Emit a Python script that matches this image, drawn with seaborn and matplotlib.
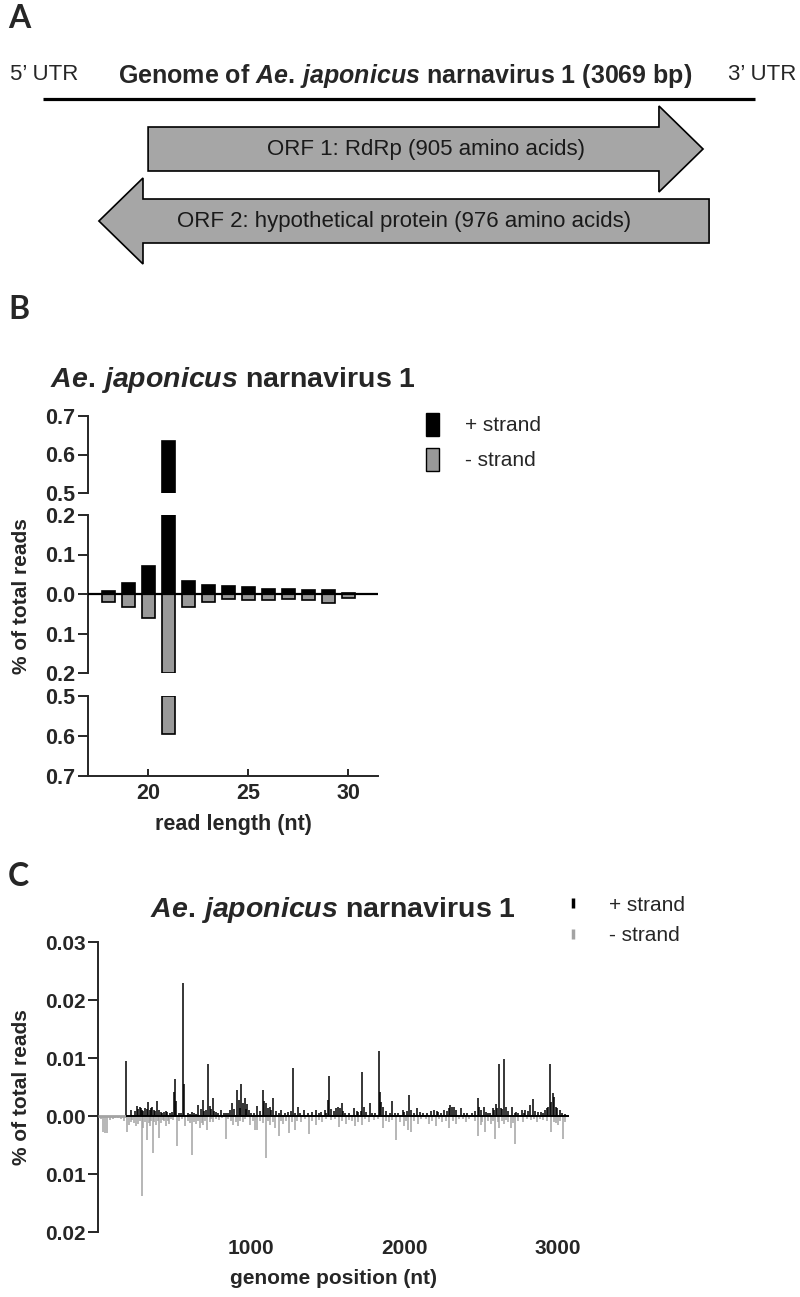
import numpy as np
import pandas as pd
import seaborn as sns
import matplotlib.pyplot as plt
import matplotlib.patches as mpatches
from matplotlib.lines import Line2D
from matplotlib.ticker import FixedLocator, FuncFormatter

# ---- painel A: esquema do genoma
genome_len = 3069
orf_labels = ["ORF 1: RdRp (905 amino acids)", "ORF 2: hypothetical protein (976 amino acids)"]
orf_start = [453, 2871]
orf_end = [2845, 241]

# ---- painel B: tamanho dos reads
read_length = [18, 19, 20, 21, 22, 23, 24, 25, 26, 27, 28, 29, 30, 31]
plus_strand = [0.0085, 0.028, 0.072, 0.635, 0.032, 0.022, 0.019, 0.017, 0.013, 0.013, 0.011, 0.0095, 0.002, 0.001]
minus_strand = [0.021, 0.032, 0.062, 0.595, 0.034, 0.019, 0.0135, 0.0145, 0.016, 0.013, 0.016, 0.023, 0.010, 0.001]

# ---- painel C: cobertura ao longo do genoma
plus_pos = [183, 216, 243, 256, 272, 287, 304, 326, 337, 352,
            365, 387, 409, 431, 453, 483, 496, 503, 512, 527,
            557, 563, 585, 611, 655, 688, 703, 720, 729, 749,
            768, 803, 833, 877, 909, 936, 958, 975, 986, 1041,
            1075, 1086, 1099, 1121, 1141, 1195, 1241, 1271, 1304, 1348,
            1398, 1420, 1459, 1481, 1503, 1509, 1555, 1569, 1590, 1612,
            1671, 1700, 1724, 1735, 1776, 1837, 1844, 1863, 1922, 1940,
            1988, 1999, 2032, 2043, 2080, 2102, 2172, 2194, 2223, 2260,
            2299, 2314, 2325, 2369, 2412, 2478, 2489, 2517, 2543, 2576,
            2598, 2620, 2631, 2650, 2663, 2703, 2729, 2768, 2790, 2823,
            2842, 2871, 2893, 2921, 2938, 2951, 2969, 2980, 2991, 3013,
            262, 280, 296, 318, 344, 372, 395, 418, 442, 470,
            540, 598, 626, 640, 670, 695, 738, 760, 785, 820,
            850, 865, 890, 918, 925, 945, 965, 1000, 1020, 1055,
            1110, 1130, 1160, 1180, 1220, 1260, 1285, 1320, 1370, 1440,
            1490, 1520, 1540, 1580, 1600, 1640, 1690, 1715, 1750, 1790,
            1810, 1850, 1880, 1905, 1960, 2015, 2060, 2120, 2145, 2210,
            2240, 2280, 2290, 2340, 2390, 2440, 2460, 2500, 2530, 2560,
            2585, 2605, 2640, 2680, 2720, 2745, 2780, 2810, 2855, 2905,
            2930, 2960, 2998, 3030, 3050]
plus_val = [0.0094, 0.0011, 0.0009, 0.0018, 0.0015, 0.0010, 0.0013, 0.0024, 0.0011, 0.0016,
            0.0010, 0.0026, 0.0007, 0.0007, 0.0007, 0.0007, 0.0042, 0.0063, 0.0026, 0.0005,
            0.0230, 0.0056, 0.0005, 0.0007, 0.0019, 0.0027, 0.0010, 0.0089, 0.0017, 0.0031,
            0.0007, 0.0010, 0.0005, 0.0023, 0.0045, 0.0056, 0.0031, 0.0021, 0.0010, 0.0018,
            0.0045, 0.0026, 0.0022, 0.0016, 0.0031, 0.0010, 0.0007, 0.0083, 0.0016, 0.0011,
            0.0007, 0.0010, 0.0007, 0.0010, 0.0027, 0.0069, 0.0013, 0.0016, 0.0022, 0.0005,
            0.0013, 0.0007, 0.0076, 0.0016, 0.0023, 0.0112, 0.0042, 0.0016, 0.0026, 0.0005,
            0.0011, 0.0007, 0.0036, 0.0010, 0.0013, 0.0007, 0.0009, 0.0010, 0.0007, 0.0010,
            0.0019, 0.0016, 0.0016, 0.0013, 0.0006, 0.0031, 0.0016, 0.0015, 0.0005, 0.0013,
            0.0020, 0.0089, 0.0013, 0.0098, 0.0016, 0.0015, 0.0007, 0.0010, 0.0011, 0.0019,
            0.0030, 0.0007, 0.0007, 0.0010, 0.0016, 0.0090, 0.0039, 0.0033, 0.0016, 0.0010,
            0.0012, 0.0013, 0.0008, 0.0012, 0.0014, 0.0009, 0.0011, 0.0006, 0.0008, 0.0005,
            0.0006, 0.0004, 0.0006, 0.0004, 0.0012, 0.0008, 0.0012, 0.0009, 0.0005, 0.0005,
            0.0006, 0.0010, 0.0012, 0.0028, 0.0013, 0.0022, 0.0012, 0.0006, 0.0005, 0.0009,
            0.0013, 0.0011, 0.0008, 0.0005, 0.0006, 0.0008, 0.0006, 0.0005, 0.0005, 0.0005,
            0.0006, 0.0012, 0.0008, 0.0014, 0.0009, 0.0005, 0.0009, 0.0008, 0.0007, 0.0006,
            0.0005, 0.0025, 0.0009, 0.0005, 0.0006, 0.0008, 0.0006, 0.0005, 0.0006, 0.0008,
            0.0005, 0.0008, 0.0014, 0.0010, 0.0006, 0.0005, 0.0008, 0.0010, 0.0007, 0.0006,
            0.0011, 0.0014, 0.0012, 0.0009, 0.0006, 0.0005, 0.0006, 0.0009, 0.0008, 0.0006,
            0.0013, 0.0025, 0.0014, 0.0006, 0.0004]

minus_pos = [34, 45, 60, 78, 110, 189, 204, 224, 246, 263,
             289, 296, 318, 340, 357, 379, 401, 423, 444, 464,
             492, 514, 568, 614, 640, 666, 688, 714, 753, 790,
             836, 884, 912, 945, 995, 1025, 1038, 1097, 1125, 1158,
             1180, 1208, 1245, 1285, 1328, 1380, 1426, 1463, 1518, 1572,
             1616, 1681, 1721, 1769, 1801, 1863, 1900, 1944, 1999, 2023,
             2043, 2087, 2161, 2205, 2248, 2292, 2336, 2401, 2482, 2499,
             2525, 2565, 2593, 2620, 2648, 2696, 2724, 2772, 2827, 2864,
             2903, 2958, 3001, 3034,
             20, 95, 130, 150, 170, 215, 235, 272, 306, 330,
             348, 368, 390, 412, 434, 454, 478, 530, 550, 590,
             600, 628, 652, 676, 700, 728, 740, 770, 810, 850,
             870, 898, 925, 960, 1010, 1060, 1080, 1110, 1140, 1195,
             1230, 1265, 1300, 1350, 1400, 1445, 1490, 1545, 1595, 1640,
             1660, 1700, 1745, 1830, 1880, 1920, 1970, 2010, 2065, 2110,
             2140, 2180, 2225, 2270, 2315, 2360, 2380, 2420, 2460, 2510,
             2545, 2580, 2610, 2635, 2665, 2680, 2710, 2740, 2800, 2845,
             2885, 2930, 2975, 2990, 3015, 3050]
minus_val = [0.0027, 0.0030, 0.0029, 0.0007, 0.0004, 0.0027, 0.0015, 0.0007, 0.0018, 0.0013,
             0.0138, 0.0021, 0.0041, 0.0018, 0.0063, 0.0015, 0.0038, 0.0007, 0.0018, 0.0013,
             0.0007, 0.0051, 0.0017, 0.0068, 0.0013, 0.0021, 0.0015, 0.0024, 0.0010, 0.0007,
             0.0040, 0.0015, 0.0018, 0.0010, 0.0015, 0.0024, 0.0024, 0.0073, 0.0015, 0.0021,
             0.0034, 0.0013, 0.0029, 0.0024, 0.0010, 0.0031, 0.0015, 0.0010, 0.0007, 0.0019,
             0.0013, 0.0018, 0.0015, 0.0010, 0.0007, 0.0021, 0.0010, 0.0041, 0.0018, 0.0024,
             0.0027, 0.0013, 0.0013, 0.0018, 0.0010, 0.0021, 0.0013, 0.0010, 0.0034, 0.0015,
             0.0027, 0.0013, 0.0040, 0.0021, 0.0013, 0.0021, 0.0048, 0.0010, 0.0007, 0.0010,
             0.0007, 0.0027, 0.0015, 0.0039,
             0.0006, 0.0005, 0.0004, 0.0006, 0.0008, 0.0010, 0.0012, 0.0009, 0.0011, 0.0012,
             0.0009, 0.0011, 0.0008, 0.0012, 0.0009, 0.0008, 0.0005, 0.0009, 0.0006, 0.0008,
             0.0012, 0.0010, 0.0008, 0.0012, 0.0009, 0.0010, 0.0006, 0.0005, 0.0004, 0.0006,
             0.0009, 0.0010, 0.0008, 0.0006, 0.0008, 0.0009, 0.0012, 0.0008, 0.0010, 0.0009,
             0.0008, 0.0010, 0.0008, 0.0006, 0.0009, 0.0007, 0.0005, 0.0006, 0.0008, 0.0007,
             0.0009, 0.0010, 0.0006, 0.0005, 0.0009, 0.0007, 0.0010, 0.0008, 0.0009, 0.0006,
             0.0005, 0.0008, 0.0006, 0.0008, 0.0009, 0.0006, 0.0005, 0.0006, 0.0009, 0.0010,
             0.0008, 0.0009, 0.0010, 0.0009, 0.0007, 0.0010, 0.0012, 0.0008, 0.0005, 0.0006,
             0.0005, 0.0008, 0.0010, 0.0012, 0.0009, 0.0010]

GRAY_B = "#999999"
GRAY_C = "#a3a3a3"
GRAY_ARROW = "#a6a6a6"

sns.set_theme(style="ticks")
plt.rcParams["font.family"] = ["Liberation Sans", "DejaVu Sans"]
plt.rcParams["mathtext.fontset"] = "custom"
plt.rcParams["mathtext.rm"] = "Liberation Sans:bold"
plt.rcParams["mathtext.it"] = "Liberation Sans:italic:bold"
plt.rcParams["mathtext.bf"] = "Liberation Sans:bold"
plt.rcParams["axes.linewidth"] = 1.4

W, H = 800, 1297
fig = plt.figure(figsize=(W / 100, H / 100), dpi=100)


def box(left, top, right, bottom):
    # caixa em pixels -> fracao da figura
    return [left / W, 1 - bottom / H, (right - left) / W, (bottom - top) / H]


def panel_letter(y, letter):
    fig.text(8 / W, 1 - y / H, letter, fontsize=23, fontweight="bold",
             family=["Lato", "Liberation Sans"], va="center", ha="left")


species = r"$\mathit{Ae.\,japonicus}$"

# ================= A =================
axA = fig.add_axes(box(0, 0, 800, 285))
px_nt = genome_len / 712.0
axA.set_xlim(-43 * px_nt, (800 - 43) * px_nt)
axA.set_ylim(285, 0)
axA.axis("off")
axA.plot([0, genome_len], [99, 99], color="black", lw=2.3, solid_capstyle="butt")
rows_y = [149, 221]
for lab, s, e, yy in zip(orf_labels, orf_start, orf_end, rows_y):
    arr = mpatches.FancyArrow(s, yy, e - s, 0, width=44, head_width=86,
                              head_length=190, length_includes_head=True,
                              facecolor=GRAY_ARROW, edgecolor="black", lw=1.2)
    axA.add_patch(arr)
    axA.text((s + e) / 2, yy, lab, ha="center", va="center", fontsize=16, color="#1a1a1a")
fig.text(10 / W, 1 - 75 / H, "5\u2019 UTR", fontsize=16, ha="left", va="center")
fig.text(796 / W, 1 - 75 / H, "3\u2019 UTR", fontsize=16, ha="right", va="center")
fig.text(405 / W, 1 - 76 / H, "Genome of " + species + " narnavirus 1 (3069 bp)",
         fontsize=18, fontweight="bold", ha="center", va="center")
panel_letter(19, "A")

# ================= B =================
panel_letter(309, "B")
axT = fig.add_axes(box(88, 416, 378, 493))
axM = fig.add_axes(box(88, 515, 378, 673))
axL = fig.add_axes(box(88, 696, 378, 776))

plus = np.array(plus_strand)
minus = -np.array(minus_strand)
lengths = np.array(read_length)

# segmento do meio (-0.2 a 0.2) com seaborn
df_mid = pd.DataFrame({"len": np.concatenate([lengths, lengths]),
                       "val": np.concatenate([np.clip(plus, -0.2, 0.2), np.clip(minus, -0.2, 0.2)]),
                       "strand": ["+"] * len(lengths) + ["-"] * len(lengths)})
sns.barplot(data=df_mid, x="len", y="val", hue="strand", palette={"+": "black", "-": GRAY_B},
            native_scale=True, width=0.65, dodge=False, errorbar=None, edgecolor="black",
            linewidth=1.2, legend=False, ax=axM)
axM.axhline(0, color="black", lw=1.6, zorder=5)

# segmentos quebrados
top_mask = plus > 0.5
axT.bar(lengths[top_mask], np.clip(plus[top_mask], 0.5, 0.7) - 0.5, bottom=0.5, width=0.65,
        color="black", edgecolor="black", lw=1.2)
bot_mask = minus < -0.5
axL.bar(lengths[bot_mask], np.clip(minus[bot_mask], -0.7, -0.5) + 0.5, bottom=-0.5, width=0.65,
        color=GRAY_B, edgecolor="black", lw=1.2)

absfmt = FuncFormatter(lambda v, p: f"{abs(v):.1f}")
for ax, lim, ticks, brk in [(axT, (0.5, 0.7), [0.5, 0.6, 0.7], [0.5]),
                            (axM, (-0.2, 0.2), [-0.2, -0.1, 0.0, 0.1, 0.2], [-0.2, 0.2]),
                            (axL, (-0.7, -0.5), [-0.7, -0.6, -0.5], [-0.5])]:
    ax.set_xlim(17, 31.5)
    ax.set_ylim(*lim)
    ax.set_yticks(ticks)
    ax.yaxis.set_major_formatter(absfmt)
    ax.yaxis.set_minor_locator(FixedLocator(brk))
    ax.tick_params(axis="y", which="major", direction="out", length=7, width=1.4,
                   labelsize=15.5, pad=2)
    ax.tick_params(axis="y", which="minor", direction="in", length=7, width=1.4)
    for t in ax.get_yticklabels():
        t.set_fontweight("bold")
    for sp in ["top", "right"]:
        ax.spines[sp].set_visible(False)
    ax.set_xlabel("")
    ax.set_ylabel("")
    ax.patch.set_alpha(0)
    if ax is not axL:
        ax.spines["bottom"].set_visible(False)
        ax.set_xticks([])

axL.set_xticks([20, 25, 30])
axL.tick_params(axis="x", direction="in", length=5, width=1.4, labelsize=15.5, pad=5)
for t in axL.get_xticklabels():
    t.set_fontweight("bold")
axL.set_xlabel("read length (nt)", fontsize=15.5, fontweight="bold", labelpad=7)

fig.text(22 / W, 1 - 596 / H, "% of total reads", rotation=90, fontsize=15,
         fontweight="bold", ha="center", va="center")
fig.text(233 / W, 1 - 380 / H, species + " narnavirus 1",
         fontsize=20.5, fontweight="bold", ha="center", va="center")

fig.legend(handles=[mpatches.Patch(facecolor="black", edgecolor="black"),
                    mpatches.Patch(facecolor=GRAY_B, edgecolor="black")],
           labels=["+ strand", "- strand"], loc="upper left",
           bbox_to_anchor=(407 / W, 1 - 394 / H), frameon=False,
           handlelength=0.65, handleheight=1.35, handletextpad=1.25,
           labelspacing=0.55, fontsize=15)

# ================= C =================
panel_letter(877, "C")
axC = fig.add_axes(box(98, 942, 569, 1232))
axC.vlines(minus_pos, 0, -np.array(minus_val), color=GRAY_C, lw=1.1)
axC.vlines(plus_pos, 0, np.array(plus_val), color="black", lw=1.1)
axC.hlines(0, 0, min(plus_pos), color=GRAY_C, lw=2.0, zorder=4)
axC.hlines(0, min(plus_pos), genome_len + 6, color="black", lw=1.4, zorder=4)
axC.set_xlim(0, 3075)
axC.set_ylim(-0.02, 0.03)
axC.set_yticks([-0.02, -0.01, 0.0, 0.01, 0.02, 0.03])
axC.yaxis.set_major_formatter(FuncFormatter(lambda v, p: f"{abs(v):.2f}"))
axC.set_xticks([1000, 2000, 3000])
axC.tick_params(axis="y", direction="out", length=7, width=1.4, labelsize=15, pad=2)
axC.tick_params(axis="x", length=0, labelsize=15, pad=5)
for t in axC.get_xticklabels() + axC.get_yticklabels():
    t.set_fontweight("bold")
for sp in ["top", "right", "bottom"]:
    axC.spines[sp].set_visible(False)
axC.set_xlabel("genome position (nt)", fontsize=15, fontweight="bold", labelpad=8)
fig.text(22 / W, 1 - 1087 / H, "% of total reads", rotation=90, fontsize=15,
         fontweight="bold", ha="center", va="center")
fig.text(333 / W, 1 - 910 / H, species + " narnavirus 1",
         fontsize=20.5, fontweight="bold", ha="center", va="center")

fig.legend(handles=[Line2D([], [], marker="|", color="black", ls="none", ms=7, mew=2.5),
                    Line2D([], [], marker="|", color=GRAY_C, ls="none", ms=7, mew=2.5)],
           labels=["+ strand", "- strand"], loc="upper left",
           bbox_to_anchor=(544 / W, 1 - 877 / H), frameon=False,
           handlelength=1.0, handletextpad=1.2, labelspacing=0.55, fontsize=15)

fig.savefig("out.png", dpi=100)
